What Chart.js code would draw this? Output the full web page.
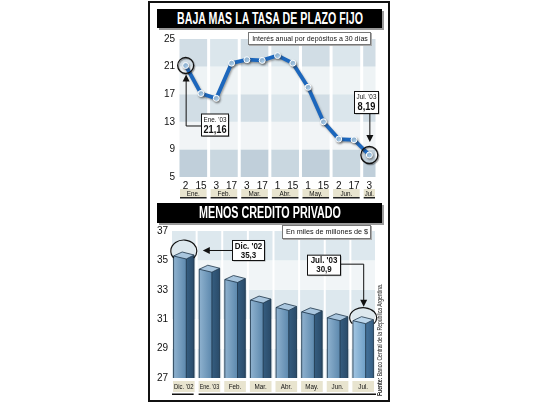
<!DOCTYPE html>
<html><head><meta charset="utf-8">
<script src="https://cdn.jsdelivr.net/npm/chart.js@4/dist/chart.umd.min.js"></script>
<style>
html,body{margin:0;padding:0;background:#fff;width:540px;height:405px;overflow:hidden;font-family:'Liberation Sans',Arial,sans-serif;}
#panel{position:absolute;left:148px;top:1px;width:238px;height:397px;border:2px solid #111;background:#fff;}
.title{position:absolute;left:157px;width:225px;background:#000;color:#fff;font-weight:bold;font-size:16px;box-shadow:2px 2px 0 #9a9a9a;white-space:nowrap;overflow:hidden;}
.title span,.legend span{position:absolute;left:50%;top:0;transform-origin:50% 50%;white-space:nowrap;}
.legend{position:absolute;background:#fff;border:1px solid #777;font-size:8px;box-shadow:1px 1px 0 #aaa;white-space:nowrap;color:#111;overflow:hidden;}
canvas{position:absolute;}
#src{position:absolute;left:376px;top:396px;transform-origin:0 0;font-size:7px;white-space:nowrap;color:#111;line-height:8px;}
</style></head>
<body>
<div id="panel"></div>
<canvas id="c1" width="238" height="172" style="left:150px;top:30px"></canvas>
<canvas id="c2" width="238" height="176" style="left:150px;top:222px"></canvas>
<div class="title" style="top:9px;height:19px;line-height:19px;"><span data-w="186">BAJA MAS LA TASA DE PLAZO FIJO</span></div>
<div class="title" style="top:203px;height:20px;line-height:20px;"><span data-w="142">MENOS CREDITO PRIVADO</span></div>
<div class="legend" style="left:248px;top:32px;width:121px;height:11px;line-height:11px;"><span data-w="116">Interés anual por depósitos a 30 días</span></div>
<div class="legend" style="left:282px;top:225px;width:87px;height:12px;line-height:12px;"><span data-w="82">En miles de millones de $</span></div>
<div id="src"><b>Fuente:</b> Banco Central de la República Argentina.</div>
<script>
// ---- data ----
const rateTicks = ['2','15','3','17','3','17','1','15','1','15','2','17','3'];
const rateValues = [21.16, 17.1, 16.4, 21.5, 22.0, 21.9, 22.6, 21.5, 18.0, 13.0, 10.5, 10.4, 8.19];
const rateMonths = ['Ene.','Feb.','Mar.','Abr.','May.','Jun.','Jul.'];
const rateMonthSpans = [[0,1],[2,3],[4,5],[6,7],[8,9],[10,11],[12,12]];
const rateYTicks = [5, 9, 13, 17, 21, 25];
const creditCats = ["Dic. '02", "Ene. '03", 'Feb.', 'Mar.', 'Abr.', 'May.', 'Jun.', 'Jul.'];
const creditValues = [35.3, 34.4, 33.7, 32.3, 31.8, 31.5, 31.1, 30.9];
const creditYTicks = [27, 29, 31, 33, 35, 37];

// fit DOM texts to their target widths (condensed look)
document.querySelectorAll('[data-w]').forEach(s => {
  const w = s.offsetWidth, t = +s.dataset.w;
  s.style.transform = 'translateX(-50%) scaleX(' + (t / w) + ')';
});
(function(){
  const s = document.getElementById('src');
  const k = 112 / s.offsetWidth;
  s.style.transform = 'rotate(-90deg) scaleX(' + k + ')';
})();

const F = "'Liberation Sans',Arial,sans-serif";
const SX = 0.84;

function cText(ctx, t, x, y, font, maxW) {
  ctx.font = font;
  let k = SX;
  const w = ctx.measureText(t).width;
  if (maxW && w * k > maxW) k = maxW / w;
  ctx.save(); ctx.translate(x, y); ctx.scale(k, 1);
  ctx.textAlign = 'center'; ctx.textBaseline = 'middle';
  ctx.fillText(t, 0, 0); ctx.restore();
  return w * k;
}
function boxText(ctx, cx, top, lines, padX, h) {
  let w = 0;
  lines.forEach(l => { ctx.font = l.font; w = Math.max(w, ctx.measureText(l.t).width * SX); });
  w = Math.round(w + padX * 2);
  const left = Math.round(cx - w / 2) + 0.5;
  ctx.save();
  ctx.shadowColor = 'rgba(0,0,0,0.35)'; ctx.shadowOffsetX = 1; ctx.shadowOffsetY = 1;
  ctx.fillStyle = '#fff'; ctx.fillRect(left, top + 0.5, w, h);
  ctx.restore();
  ctx.strokeStyle = '#111'; ctx.lineWidth = 1; ctx.strokeRect(left, top + 0.5, w, h);
  ctx.fillStyle = '#111';
  lines.forEach(l => cText(ctx, l.t, left + w / 2, top + l.dy, l.font));
  return {left, w};
}
function arrowHead(ctx, x, y, dir) {
  ctx.beginPath();
  if (dir === 'up') { ctx.moveTo(x, y); ctx.lineTo(x - 3.5, y + 7); ctx.lineTo(x + 3.5, y + 7); }
  else if (dir === 'down') { ctx.moveTo(x, y); ctx.lineTo(x - 3.5, y - 7); ctx.lineTo(x + 3.5, y - 7); }
  else { ctx.moveTo(x, y); ctx.lineTo(x + 7, y - 3.5); ctx.lineTo(x + 7, y + 3.5); }
  ctx.closePath(); ctx.fillStyle = '#111'; ctx.fill();
}

// ---- top chart ----
const rateRowColors = ['#c9d7e0', '#f1f4f6', '#dbe6ec', '#eef3f5', '#dbe6ec'];
const rateBg = {
  id: 'rateBg',
  beforeDatasetsDraw(chart) {
    const {ctx, scales: {x, y}} = chart;
    const step = x.getPixelForValue(1) - x.getPixelForValue(0);
    ctx.save();
    rateMonthSpans.forEach((sp, mi) => {
      const l = x.getPixelForValue(sp[0]) - step / 2 + 1.5;
      const r = x.getPixelForValue(sp[1]) + step / 2 - 1.5;
      for (let i = 0; i < rateYTicks.length - 1; i++) {
        const yb = y.getPixelForValue(rateYTicks[i]);
        const yt = y.getPixelForValue(rateYTicks[i + 1]);
        ctx.fillStyle = rateRowColors[i];
        ctx.fillRect(l, yt, r - l, yb - yt);
        if (mi % 2 === 0 && (i === 0 || i === 2 || i === 4)) {
          ctx.fillStyle = 'rgba(90,120,140,0.07)';
          ctx.fillRect(l, yt, r - l, yb - yt);
        }
      }
    });
    ctx.restore();
  },
  beforeDatasetDraw(chart) {
    const ctx = chart.ctx;
    ctx.save();
    ctx.shadowColor = 'rgba(60,60,60,0.45)'; ctx.shadowBlur = 2; ctx.shadowOffsetX = 1; ctx.shadowOffsetY = 1.5;
  },
  afterDatasetDraw(chart) { chart.ctx.restore(); },
  afterDraw(chart) {
    const {ctx, scales: {x, y}} = chart;
    const step = x.getPixelForValue(1) - x.getPixelForValue(0);
    ctx.save();
    rateMonthSpans.forEach((sp, mi) => {
      const l = x.getPixelForValue(sp[0]) - step / 2 + 2;
      const r = x.getPixelForValue(sp[1]) + step / 2 - 2;
      const top = 159;
      ctx.fillStyle = '#e8e4cf'; ctx.fillRect(l, top, r - l, 8);
      ctx.fillStyle = '#222'; ctx.fillRect(l, top + 8, r - l, 1.5);
      ctx.fillStyle = '#111';
      cText(ctx, rateMonths[mi], (l + r) / 2, top + 4.5, '7.5px ' + F, r - l - 2);
    });
    const x0 = x.getPixelForValue(0), y0 = y.getPixelForValue(rateValues[0]);
    ctx.save();
    ctx.shadowColor = 'rgba(0,0,0,0.4)'; ctx.shadowOffsetX = 1; ctx.shadowOffsetY = 1; ctx.shadowBlur = 1;
    ctx.strokeStyle = '#111'; ctx.lineWidth = 1.3;
    ctx.beginPath(); ctx.arc(x0, y0, 8, 0, Math.PI * 2); ctx.stroke();
    ctx.restore();
    ctx.strokeStyle = '#111'; ctx.lineWidth = 1;
    ctx.beginPath(); ctx.moveTo(x0 + 17, y0 + 60.5); ctx.lineTo(x0 + 0.5, y0 + 60.5); ctx.lineTo(x0 + 0.5, y0 + 14); ctx.stroke();
    arrowHead(ctx, x0 + 0.5, y0 + 9, 'up');
    boxText(ctx, x0 + 28.5, y0 + 48, [
      {t: "Ene. '03", font: '7.5px ' + F, dy: 6},
      {t: rateValues[0].toFixed(2).replace('.', ','), font: 'bold 11px ' + F, dy: 16}
    ], 2, 22);
    const n = rateValues.length - 1;
    const xn = x.getPixelForValue(n), yn = y.getPixelForValue(rateValues[n]);
    ctx.save();
    ctx.shadowColor = 'rgba(0,0,0,0.4)'; ctx.shadowOffsetX = 1; ctx.shadowOffsetY = 1; ctx.shadowBlur = 1;
    ctx.strokeStyle = '#111'; ctx.lineWidth = 1.3;
    ctx.beginPath(); ctx.arc(xn, yn, 8.5, 0, Math.PI * 2); ctx.stroke();
    ctx.restore();
    ctx.strokeStyle = '#111'; ctx.lineWidth = 1;
    ctx.beginPath(); ctx.moveTo(xn + 0.5, yn - 41); ctx.lineTo(xn + 0.5, yn - 19); ctx.stroke();
    arrowHead(ctx, xn + 0.5, yn - 13, 'down');
    boxText(ctx, xn - 3, yn - 64, [
      {t: "Jul. '03", font: '7.5px ' + F, dy: 6},
      {t: rateValues[n].toFixed(2).replace('.', ','), font: 'bold 11px ' + F, dy: 16}
    ], 2, 22);
    ctx.restore();
  }
};

new Chart(document.getElementById('c1'), {
  type: 'line',
  data: {
    labels: rateTicks,
    datasets: [{
      data: rateValues,
      borderColor: '#1c67bd', borderWidth: 3.8, tension: 0,
      pointRadius: 3, pointBackgroundColor: '#a6cdee', pointBorderColor: '#ffffff', pointBorderWidth: 1
    }]
  },
  options: {
    responsive: false, devicePixelRatio: 1, animation: false,
    layout: {padding: {top: 8, right: 11, left: 0, bottom: 0}},
    plugins: {legend: {display: false}, tooltip: {enabled: false}},
    scales: {
      x: {
        offset: true, grid: {display: false, drawTicks: false}, border: {display: false},
        ticks: {color: '#111', font: {family: F, size: 10}, padding: 3, maxRotation: 0, autoSkip: false},
        afterFit(s) { s.height = 25; }
      },
      y: {
        min: 5, max: 25, grid: {display: false, drawTicks: false}, border: {display: false},
        afterBuildTicks(s) { s.ticks = rateYTicks.map(v => ({value: v})); },
        ticks: {color: '#111', font: {family: F, size: 10}, padding: 3},
        afterFit(s) { s.width = 28; }
      }
    }
  },
  plugins: [rateBg]
});

// ---- bottom chart ----
const creditRowColors = ['#dde8ee', '#f3f6f8', '#dde8ee', '#f1f5f7', '#dde8ee'];
const creditPlug = {
  id: 'creditPlug',
  beforeDatasetsDraw(chart) {
    const {ctx, scales: {x, y}} = chart;
    const step = x.getPixelForValue(1) - x.getPixelForValue(0);
    ctx.save();
    creditCats.forEach((c, ci) => {
      const l = x.getPixelForValue(ci) - step / 2 + 1;
      const r = x.getPixelForValue(ci) + step / 2 - 1;
      for (let i = 0; i < creditYTicks.length - 1; i++) {
        const yb = y.getPixelForValue(creditYTicks[i]);
        const yt = y.getPixelForValue(creditYTicks[i + 1]);
        ctx.fillStyle = creditRowColors[i];
        ctx.fillRect(l, yt, r - l, yb - yt);
      }
    });
    ctx.restore();
  },
  afterDatasetsDraw(chart) {
    const {ctx, scales: {x, y}} = chart;
    const meta = chart.getDatasetMeta(0);
    const bottom = y.getPixelForValue(y.min);
    ctx.save();
    meta.data.forEach((bar, i) => {
      const w = bar.width, x0 = bar.x - w / 2, x1 = bar.x + w / 2, t = bar.y, b = Math.min(bar.base, bottom);
      const xs = x0 + w * 0.62;
      const light = i === meta.data.length - 1;
      const g = ctx.createLinearGradient(x0, 0, xs, 0);
      g.addColorStop(0, light ? '#a3c6e2' : '#8fb2cf');
      g.addColorStop(1, light ? '#6e9fc6' : '#5c88ad');
      ctx.fillStyle = g;
      ctx.beginPath(); ctx.moveTo(x0, t); ctx.lineTo(xs, t + 3); ctx.lineTo(xs, b); ctx.lineTo(x0, b); ctx.closePath(); ctx.fill();
      const g2 = ctx.createLinearGradient(xs, 0, x1, 0);
      g2.addColorStop(0, light ? '#44729a' : '#355d80');
      g2.addColorStop(1, light ? '#365f84' : '#2a4b69');
      ctx.fillStyle = g2;
      ctx.beginPath(); ctx.moveTo(xs, t + 3); ctx.lineTo(x1, t - 1); ctx.lineTo(x1, b); ctx.lineTo(xs, b); ctx.closePath(); ctx.fill();
      ctx.fillStyle = light ? '#bcd7ec' : '#a9c6de';
      ctx.beginPath(); ctx.moveTo(x0, t); ctx.lineTo(x0 + w * 0.42, t - 4); ctx.lineTo(x1, t - 1); ctx.lineTo(xs, t + 3); ctx.closePath(); ctx.fill();
      ctx.strokeStyle = '#1d3447'; ctx.lineWidth = 0.8;
      ctx.beginPath(); ctx.moveTo(x0, b); ctx.lineTo(x0, t); ctx.lineTo(x0 + w * 0.42, t - 4); ctx.lineTo(x1, t - 1); ctx.lineTo(x1, b); ctx.stroke();
      ctx.beginPath(); ctx.moveTo(x0, t); ctx.lineTo(xs, t + 3); ctx.lineTo(x1, t - 1); ctx.moveTo(xs, t + 3); ctx.lineTo(xs, b); ctx.stroke();
    });
    const step = x.getPixelForValue(1) - x.getPixelForValue(0);
    creditCats.forEach((c, ci) => {
      const cx = x.getPixelForValue(ci);
      const l = cx - step / 2 + 2, r = cx + step / 2 - 2;
      ctx.fillStyle = '#e8e4cf'; ctx.fillRect(l, 159, r - l, 11);
      ctx.fillStyle = '#111';
      cText(ctx, c, cx, 165, '7.5px ' + F, r - l - 2);
    });
    const l0 = x.getPixelForValue(0) - step / 2 + 1, r0 = x.getPixelForValue(0) + step / 2 - 3;
    const l1 = x.getPixelForValue(1) - step / 2 + 2, r1 = x.getPixelForValue(creditCats.length - 1) + step / 2;
    ctx.fillStyle = '#111';
    ctx.fillRect(l0, 171.5, r0 - l0, 1.5);
    ctx.fillRect(l1, 171.5, r1 - l1, 1.5);
    const b0 = meta.data[0];
    ctx.strokeStyle = '#111'; ctx.lineWidth = 1.2;
    ctx.beginPath(); ctx.ellipse(b0.x, b0.y - 5, 13, 11, 0, Math.PI * 0.78, Math.PI * 2.22); ctx.stroke();
    ctx.lineWidth = 1;
    ctx.beginPath(); ctx.moveTo(b0.x + 25, b0.y - 5.5); ctx.lineTo(b0.x + 49, b0.y - 5.5); ctx.stroke();
    arrowHead(ctx, b0.x + 19, b0.y - 5.5, 'left');
    boxText(ctx, b0.x + 64, b0.y - 16, [
      {t: creditCats[0], font: 'bold 9.5px ' + F, dy: 6},
      {t: creditValues[0].toFixed(1).replace('.', ','), font: 'bold 9.5px ' + F, dy: 15}
    ], 2, 20);
    const bn = meta.data[meta.data.length - 1];
    ctx.strokeStyle = '#111'; ctx.lineWidth = 1.2;
    ctx.beginPath(); ctx.ellipse(bn.x, bn.y - 3, 13.5, 10, 0, Math.PI * 0.8, Math.PI * 2.2); ctx.stroke();
    ctx.lineWidth = 1;
    ctx.beginPath(); ctx.moveTo(bn.x - 24, bn.y - 56.5); ctx.lineTo(bn.x + 0.5, bn.y - 56.5); ctx.lineTo(bn.x + 0.5, bn.y - 20); ctx.stroke();
    arrowHead(ctx, bn.x + 0.5, bn.y - 14, 'down');
    boxText(ctx, bn.x - 39.5, bn.y - 66, [
      {t: "Jul. '03", font: 'bold 9.5px ' + F, dy: 6},
      {t: creditValues[creditValues.length - 1].toFixed(1).replace('.', ','), font: 'bold 9.5px ' + F, dy: 15}
    ], 3, 20);
    ctx.restore();
  }
};

new Chart(document.getElementById('c2'), {
  type: 'bar',
  data: {
    labels: creditCats,
    datasets: [{data: creditValues, backgroundColor: '#5c88ad', barPercentage: 0.8, categoryPercentage: 1}]
  },
  options: {
    responsive: false, devicePixelRatio: 1, animation: false,
    layout: {padding: {top: 6, right: 12, left: 0, bottom: 0}},
    plugins: {legend: {display: false}, tooltip: {enabled: false}},
    scales: {
      x: {
        offset: true, grid: {display: false, drawTicks: false}, border: {display: false},
        ticks: {display: false},
        afterFit(s) { s.height = 20; }
      },
      y: {
        min: 27, max: 37, grid: {display: false, drawTicks: false}, border: {display: false},
        afterBuildTicks(s) { s.ticks = creditYTicks.map(v => ({value: v})); },
        ticks: {color: '#111', font: {family: F, size: 10}, padding: 3},
        afterFit(s) { s.width = 21; }
      }
    }
  },
  plugins: [creditPlug]
});
</script>
</body></html>
